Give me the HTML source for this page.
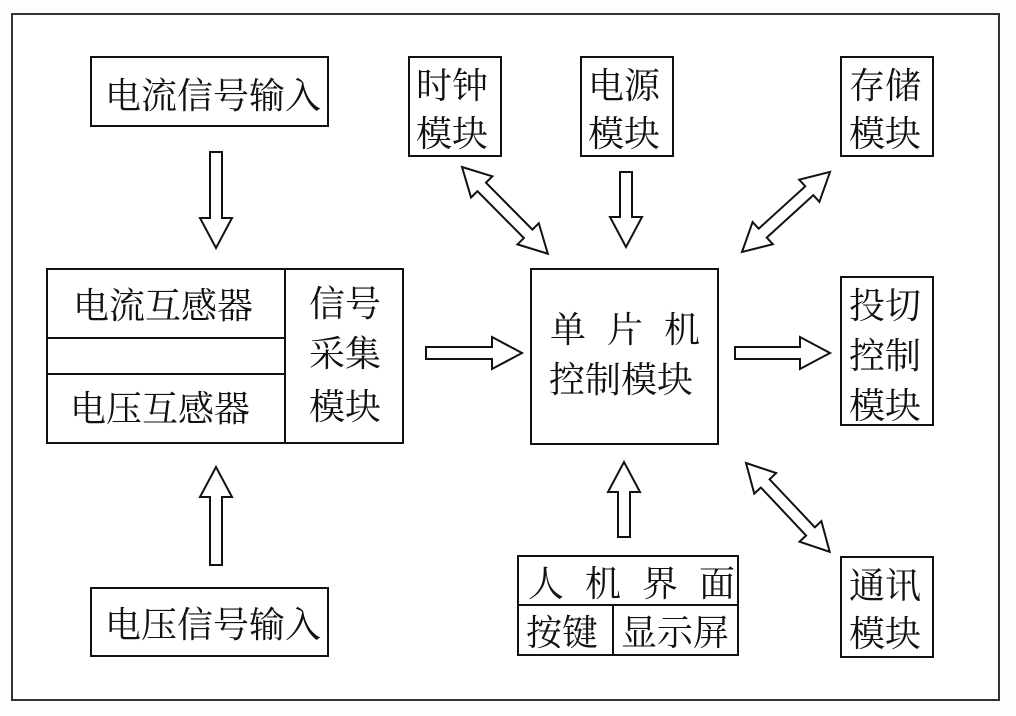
<!DOCTYPE html>
<html><head><meta charset="utf-8"><style>
html,body{margin:0;padding:0;background:#fff;}
svg{display:block;}
text{font-family:"Liberation Serif","Noto Serif CJK SC","Noto Sans CJK SC",serif;font-size:36px;fill:#111;}
</style></head><body>
<svg width="1016" height="716" viewBox="0 0 1016 716" xmlns="http://www.w3.org/2000/svg">
<rect x="0" y="0" width="1016" height="716" fill="#fdfdfd"/>
<rect x="12" y="14" width="987" height="686" fill="#fff" stroke="#333" stroke-width="2"/>
<g fill="none" stroke="#111" stroke-width="2">
<rect x="91" y="57" width="237" height="69"/>
<rect x="91" y="588" width="237" height="68"/>
<rect x="47" y="269" width="356" height="174"/>
<rect x="47" y="269" width="238" height="69"/>
<rect x="47" y="374" width="238" height="69"/>
<line x1="285" y1="269" x2="285" y2="443"/>
<rect x="531" y="269" width="187" height="175"/>
<rect x="409" y="57" width="92" height="99"/>
<rect x="581" y="57" width="92" height="99"/>
<rect x="841" y="57" width="92" height="99"/>
<rect x="841" y="277" width="92" height="148"/>
<rect x="841" y="557" width="92" height="100"/>
<rect x="518" y="556" width="220" height="99"/>
<line x1="518" y1="605" x2="738" y2="605"/>
<line x1="613" y1="605" x2="613" y2="655"/>
</g>
<g fill="#fff" stroke="#111" stroke-width="2" stroke-linejoin="miter">
<polygon transform="translate(216,152) rotate(90)" points="0,-6 66,-6 66,-16 96,0 66,16 66,6 0,6"/>
<polygon transform="translate(216,565) rotate(-90)" points="0,-6 68,-6 68,-16 98,0 68,16 68,6 0,6"/>
<polygon transform="translate(426,353)" points="0,-6 66,-6 66,-16 96,0 66,16 66,6 0,6"/>
<polygon transform="translate(735,353)" points="0,-6 65,-6 65,-16 95,0 65,16 65,6 0,6"/>
<polygon transform="translate(626,172) rotate(90)" points="0,-6 45,-6 45,-16 75,0 45,16 45,6 0,6"/>
<polygon transform="translate(624,537) rotate(-90)" points="0,-6 45,-6 45,-16 75,0 45,16 45,6 0,6"/>
<polygon transform="translate(462,167) rotate(45.3)" points="0,0 28,-15 28,-6 94,-6 94,-15 122,0 94,15 94,6 28,6 28,15"/>
<polygon transform="translate(742,252) rotate(-42.3)" points="0,0 28,-15 28,-6 91,-6 91,-15 119,0 91,15 91,6 28,6 28,15"/>
<polygon transform="translate(746,463) rotate(46.7)" points="0,0 28,-15 28,-6 94,-6 94,-15 122,0 94,15 94,6 28,6 28,15"/>
</g>
<g>
<text x="105" y="108">电流信号输入</text>
<text x="105" y="637">电压信号输入</text>
<text x="73" y="318">电流互感器</text>
<text x="70" y="421">电压互感器</text>
<text x="309" y="316">信号</text>
<text x="309" y="366">采集</text>
<text x="309" y="419">模块</text>
<text x="550" y="342" letter-spacing="21">单片机</text>
<text x="549" y="392">控制模块</text>
<text x="416" y="98">时钟</text>
<text x="416" y="146">模块</text>
<text x="588" y="98">电源</text>
<text x="588" y="146">模块</text>
<text x="849" y="98">存储</text>
<text x="849" y="146">模块</text>
<text x="849" y="318">投切</text>
<text x="849" y="368">控制</text>
<text x="849" y="418">模块</text>
<text x="849" y="598">通讯</text>
<text x="849" y="646">模块</text>
<text x="528" y="596" letter-spacing="21">人机界面</text>
<text x="526" y="645">按键</text>
<text x="621" y="645">显示屏</text>
</g>
</svg>
</body></html>
